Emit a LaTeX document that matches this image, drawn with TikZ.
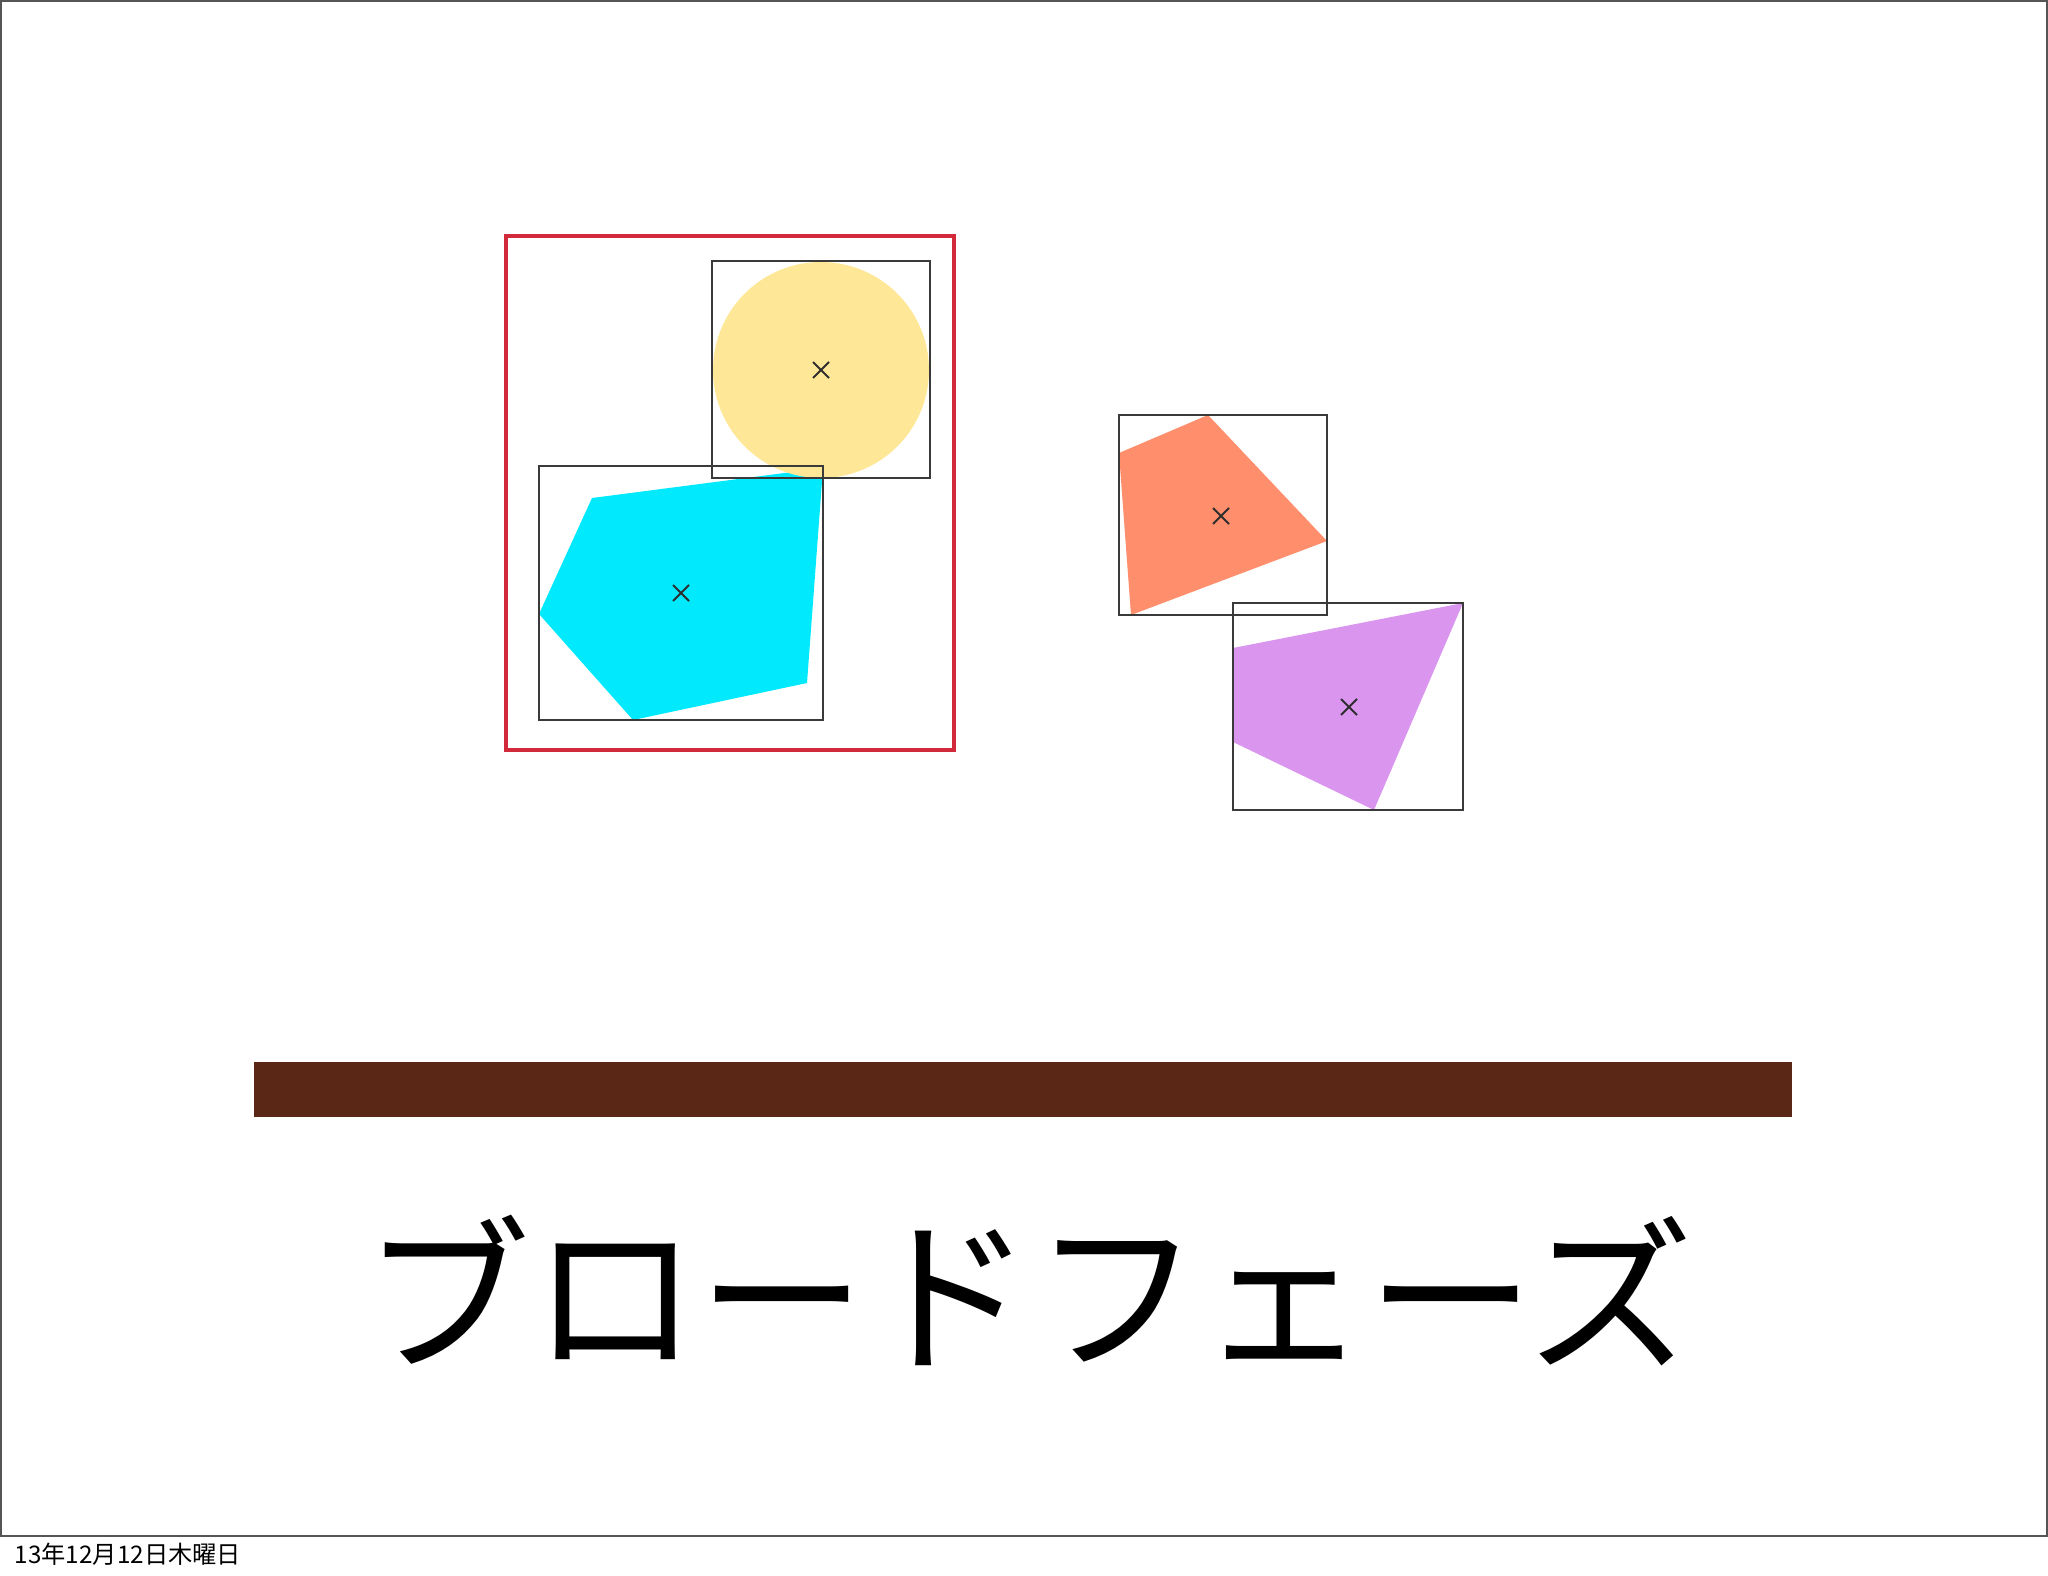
\documentclass[tikz,border=0pt]{standalone}
\usepackage{fontspec}
\newfontfamily\jpfont{Noto Sans CJK JP}
\definecolor{framegray}{HTML}{555555}
\definecolor{boxgray}{HTML}{3A3A3A}
\definecolor{redframe}{HTML}{D32A3B}
\definecolor{yellowfill}{HTML}{FEE898}
\definecolor{cyanfill}{HTML}{00E9FD}
\definecolor{orangefill}{HTML}{FE8E6C}
\definecolor{purplefill}{HTML}{DA95EF}
\definecolor{barbrown}{HTML}{5A2616}
\begin{document}
\begin{tikzpicture}[x=0.01cm,y=-0.01cm,
  aabb/.style={draw=boxgray,line width=0.65pt},
  crossmark/.style={draw=boxgray!80!black,line width=0.55pt},
  shapefill/.style={draw=none}]
\useasboundingbox (0,0) rectangle (2048,1576);
\fill[white] (0,0) rectangle (2048,1576);
% slide frame
\draw[framegray,line width=0.6pt] (1,1) rectangle (2047,1536);
% shapes
\fill[cyanfill] (592,498) -- (823,468) -- (807,683) -- (633,720) -- (539,614) -- cycle;
\fill[yellowfill] (821,370) circle (108);
\fill[orangefill] (1119,453) -- (1208,415) -- (1327,541) -- (1131,615) -- cycle;
\fill[purplefill] (1233,648) -- (1463,603) -- (1374,810) -- (1233,742) -- cycle;
% bounding boxes
\draw[aabb] (539,466) rectangle (823,720);
\draw[aabb] (712,261) rectangle (930,478);
\draw[aabb] (1119,415) rectangle (1327,615);
\draw[aabb] (1233,603) rectangle (1463,810);
% centre marks
\foreach \cx/\cy in {821/370, 681/593, 1221/516, 1349/707}{
  \draw[crossmark] (\cx-8,\cy-8) -- (\cx+8,\cy+8) (\cx-8,\cy+8) -- (\cx+8,\cy-8);
}
% red group box
\draw[redframe,line width=1.35pt] (506,236) rectangle (954,750);
% brown bar
\fill[barbrown] (254,1062) rectangle (1792,1117);
% title
\node[font=\jpfont\fontsize{47.6pt}{48pt}\selectfont,inner sep=0pt] (title) at (1029,1291) {ブロードフェーズ};
% date
\node[font=\jpfont\fontsize{6.9pt}{8pt}\selectfont,inner sep=0pt,anchor=west] (date) at (14,1554) {13年12月12日木曜日};
\end{tikzpicture}
\end{document}
